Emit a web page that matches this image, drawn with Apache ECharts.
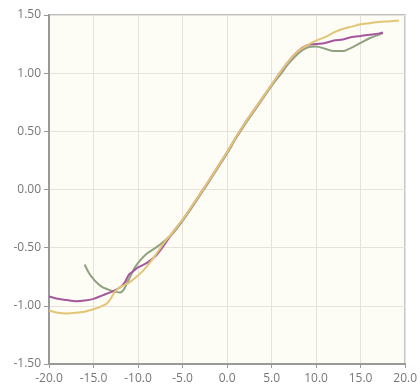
<!DOCTYPE html>
<html>
<head>
<meta charset="utf-8">
<script src="https://cdn.jsdelivr.net/npm/echarts@6/dist/echarts.min.js"></script>
<style>html,body{margin:0;padding:0;background:#fff;}#c{width:420px;height:386px;}</style>
</head>
<body>
<div id="c"></div>
<script>
var xTicks = [-20, -15, -10, -5, 0, 5, 10, 15, 20];
var yTicks = [-1.5, -1.0, -0.5, 0.0, 0.5, 1.0, 1.5];

var greenX = [-16, -15.5, -15, -14.5, -14, -13, -12.5, -12, -11.6, -11.2, -10.5, -10, -9, -8, -7, -6, -5, -4, -3, -2, -1, 0, 1, 2, 3, 4, 5, 6, 7, 8, 9, 10, 11, 12, 13, 14, 15, 16, 17, 17.5];
var greenY = [-0.645, -0.72, -0.77, -0.81, -0.84, -0.87, -0.88, -0.885, -0.86, -0.8, -0.69, -0.63, -0.55, -0.5, -0.44, -0.37, -0.27, -0.16, -0.045, 0.07, 0.19, 0.31, 0.44, 0.56, 0.67, 0.78, 0.89, 0.99, 1.09, 1.17, 1.22, 1.23, 1.21, 1.19, 1.19, 1.22, 1.26, 1.3, 1.33, 1.345];

var purpleX = [-20, -19, -18, -17, -16, -15, -14, -13, -12, -11.5, -11, -10.5, -10, -9, -8, -7, -6, -5, -4, -3, -2, -1, 0, 1, 2, 3, 4, 5, 6, 7, 8, 9, 10, 11, 12, 13, 14, 15, 16, 17, 17.5];
var purpleY = [-0.92, -0.94, -0.95, -0.96, -0.955, -0.94, -0.91, -0.88, -0.84, -0.8, -0.73, -0.7, -0.67, -0.63, -0.57, -0.47, -0.36, -0.26, -0.15, -0.035, 0.08, 0.2, 0.32, 0.45, 0.57, 0.68, 0.79, 0.9, 1.01, 1.11, 1.19, 1.24, 1.25, 1.26, 1.28, 1.29, 1.31, 1.32, 1.33, 1.34, 1.35];

var goldX = [-20, -19, -18, -17, -16, -15, -14, -13.5, -13, -12.5, -12, -11.5, -11, -10, -9, -8, -7, -6, -5, -4, -3, -2, -1, 0, 1, 2, 3, 4, 5, 6, 7, 8, 9, 10, 11, 12, 13, 14, 15, 16, 17, 18, 19, 19.3];
var goldY = [-1.04, -1.06, -1.065, -1.06, -1.05, -1.03, -1.0, -0.98, -0.93, -0.87, -0.84, -0.82, -0.8, -0.74, -0.66, -0.56, -0.45, -0.36, -0.26, -0.15, -0.035, 0.08, 0.2, 0.32, 0.45, 0.57, 0.68, 0.79, 0.9, 1.01, 1.11, 1.19, 1.24, 1.28, 1.31, 1.35, 1.38, 1.4, 1.42, 1.43, 1.44, 1.445, 1.45, 1.45];

function pairs(xs, ys) { return xs.map(function (x, i) { return [x, ys[i]]; }); }

var chart = echarts.init(document.getElementById('c'), null, {renderer: 'canvas'});
var labelStyle = {color: '#777', fontSize: 12, fontFamily: 'Open Sans, DejaVu Sans, sans-serif'};
chart.setOption({
  animation: false,
  backgroundColor: '#ffffff',
  grid: {left: 49, right: 10, top: 15, bottom: 22, show: true, backgroundColor: '#fdfcf5', borderColor: '#a8a8a8', borderWidth: 1.5},
  xAxis: {
    type: 'value', min: xTicks[0], max: xTicks[xTicks.length - 1], interval: 5,
    axisLine: {show: true, onZero: false, lineStyle: {color: '#999', width: 2}},
    axisTick: {show: true, length: 4, lineStyle: {color: '#999'}},
    splitLine: {show: true, lineStyle: {color: '#e6e1da', width: 1}},
    axisLabel: Object.assign({margin: 9, formatter: function (v) { return v.toFixed(1); }}, labelStyle)
  },
  yAxis: {
    type: 'value', min: yTicks[0], max: yTicks[yTicks.length - 1], interval: 0.5,
    axisLine: {show: true, onZero: false, lineStyle: {color: '#999', width: 2}},
    axisTick: {show: true, length: 5, lineStyle: {color: '#999'}},
    splitLine: {show: true, lineStyle: {color: '#e6e1da', width: 1}},
    axisLabel: Object.assign({margin: 8, formatter: function (v) { return v.toFixed(2); }}, labelStyle)
  },
  series: [
    {type: 'line', data: pairs(greenX, greenY), smooth: 0.3, symbol: 'none', lineStyle: {color: '#8fa27f', width: 2}},
    {type: 'line', data: pairs(purpleX, purpleY), smooth: 0.3, symbol: 'none', lineStyle: {color: '#a5579d', width: 2}},
    {type: 'line', data: pairs(goldX, goldY), smooth: 0.3, symbol: 'none', lineStyle: {color: '#e2c675', width: 2}}
  ]
});
</script>
</body>
</html>
